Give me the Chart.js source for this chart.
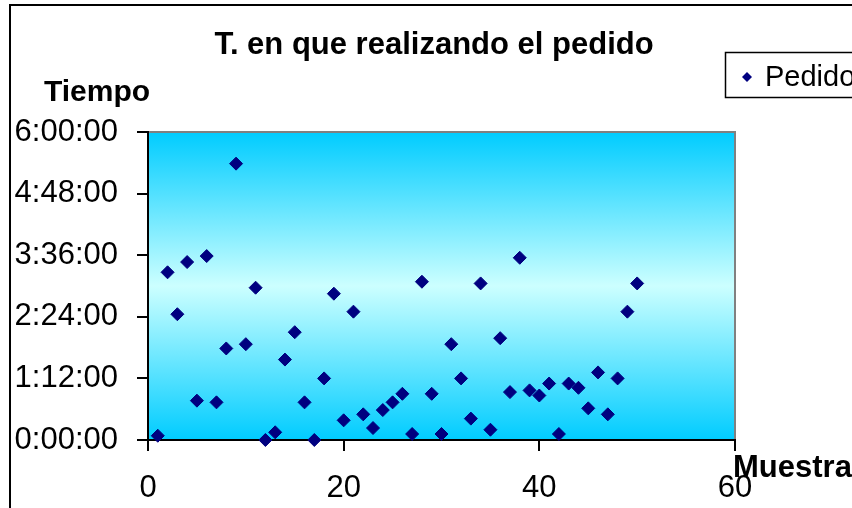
<!DOCTYPE html>
<html>
<head>
<meta charset="utf-8">
<script src="https://cdn.jsdelivr.net/npm/chart.js@4/dist/chart.umd.min.js"></script>
<style>
  html, body { margin: 0; padding: 0; background: #ffffff; }
  #wrap { width: 852px; height: 508px; position: relative; }
</style>
</head>
<body>
<div id="wrap"><canvas id="c" width="852" height="508"></canvas></div>
<script>
// Muestras (número de pedido)
const muestras = [
  1, 2, 3, 4, 5, 6, 7, 8, 9, 10,
  11, 12, 13, 14, 15, 16, 17, 18, 19, 20,
  21, 22, 23, 24, 25, 26, 27, 28, 29, 30,
  31, 32, 33, 34, 35, 36, 37, 38, 39, 40,
  41, 42, 43, 44, 45, 46, 47, 48, 49, 50
];
// Tiempo de cada pedido (h:mm)
const tiempos = [
  '0:05', '3:16', '2:27', '3:28', '0:46', '3:35', '0:44', '1:47', '5:23', '1:52',
  '2:58', '0:00', '0:09', '1:34', '2:06', '0:44', '0:00', '1:12', '2:51', '0:23',
  '2:30', '0:30', '0:14', '0:35', '0:44', '0:54', '0:07', '3:05', '0:54', '0:07',
  '1:52', '1:12', '0:25', '3:03', '0:12', '1:59', '0:56', '3:33', '0:58', '0:52',
  '1:06', '0:07', '1:06', '1:01', '0:37', '1:19', '0:30', '1:12', '2:30', '3:03'
];
const xTicks = [0, 20, 40, 60];
const yTicks = ['0:00:00', '1:12:00', '2:24:00', '3:36:00', '4:48:00', '6:00:00'];

const titulo = 'T. en que realizando el pedido';
const tituloY = 'Tiempo';
const tituloX = 'Muestra';
const serie = 'Pedido';

const toMin = s => { const [h, m] = s.split(':').map(Number); return h * 60 + m; };
const yTickMin = yTicks.map(s => toMin(s.slice(0, -3)));
const points = muestras.map((m, i) => ({ x: m, y: toMin(tiempos[i]) }));

const FONT = '"Liberation Sans", Arial, sans-serif';
const NAVY = '#000080';

// Gradient fill behind the plot, plus frame, titles and legend box
const decor = {
  id: 'decor',
  beforeDraw(chart) {
    const { ctx, chartArea: a } = chart;
    ctx.save();
    const g = ctx.createLinearGradient(0, a.top, 0, a.bottom);
    g.addColorStop(0, '#00CCFF');
    g.addColorStop(0.5, '#CCFFFF');
    g.addColorStop(1, '#00CCFF');
    ctx.fillStyle = g;
    ctx.fillRect(a.left, a.top, a.right - a.left, a.bottom - a.top);
    ctx.strokeStyle = '#808080';
    ctx.lineWidth = 2;
    ctx.beginPath();
    ctx.moveTo(a.left, a.top);
    ctx.lineTo(a.right, a.top);
    ctx.lineTo(a.right, a.bottom);
    ctx.stroke();
    ctx.restore();
  },
  afterDraw(chart) {
    const { ctx } = chart;
    ctx.save();
    // outer frame
    ctx.strokeStyle = '#000000';
    ctx.lineWidth = 2;
    ctx.beginPath();
    ctx.moveTo(10, 520);
    ctx.lineTo(10, 5);
    ctx.lineTo(870, 5);
    ctx.stroke();

    ctx.fillStyle = '#000000';
    ctx.textBaseline = 'alphabetic';
    ctx.font = 'bold 31px ' + FONT;
    ctx.textAlign = 'center';
    ctx.fillText(titulo, 434, 54);
    ctx.textAlign = 'left';
    ctx.font = 'bold 30px ' + FONT;
    ctx.fillText(tituloY, 44, 101);
    ctx.font = 'bold 31px ' + FONT;
    ctx.fillText(tituloX, 733, 477);

    // legend
    ctx.lineWidth = 1.5;
    ctx.strokeRect(725.5, 52.5, 200, 45);
    ctx.fillStyle = NAVY;
    ctx.beginPath();
    ctx.moveTo(747, 72);
    ctx.lineTo(752, 77);
    ctx.lineTo(747, 82);
    ctx.lineTo(742, 77);
    ctx.closePath();
    ctx.fill();
    ctx.fillStyle = '#000000';
    ctx.font = '29px ' + FONT;
    ctx.fillText(serie, 765, 86);
    ctx.restore();
  }
};

new Chart(document.getElementById('c'), {
  type: 'scatter',
  data: {
    datasets: [{
      label: serie,
      data: points,
      pointStyle: 'rectRot',
      pointRadius: 6.5,
      pointHoverRadius: 6.5,
      backgroundColor: NAVY,
      borderColor: NAVY,
      borderWidth: 1,
      clip: false
    }]
  },
  options: {
    responsive: false,
    animation: false,
    events: [],
    layout: { padding: { left: 0, top: 132, right: 117, bottom: 0 } },
    plugins: {
      legend: { display: false },
      title: { display: false },
      tooltip: { enabled: false }
    },
    scales: {
      x: {
        type: 'linear',
        min: 0, max: 60,
        afterFit: s => { s.height = 68; },
        afterBuildTicks: s => { s.ticks = xTicks.map(v => ({ value: v })); },
        ticks: {
          color: '#000000',
          font: { family: FONT, size: 31 },
          padding: 19,
          maxRotation: 0,
          callback: v => String(v)
        },
        grid: { display: true, drawOnChartArea: false, drawTicks: true, tickLength: 11, color: '#000000', lineWidth: 2 },
        border: { display: true, color: '#000000', width: 2 }
      },
      y: {
        type: 'linear',
        min: 0, max: 360,
        afterFit: s => { s.width = 148; },
        afterBuildTicks: s => { s.ticks = yTickMin.map(v => ({ value: v })); },
        ticks: {
          color: '#000000',
          font: { family: FONT, size: 31 },
          padding: 19,
          callback: (v) => { const i = yTickMin.indexOf(v); return i >= 0 ? yTicks[i] : ''; }
        },
        grid: { display: true, drawOnChartArea: false, drawTicks: true, tickLength: 11, color: '#000000', lineWidth: 2 },
        border: { display: true, color: '#000000', width: 2 }
      }
    }
  },
  plugins: [decor]
});
</script>
</body>
</html>
